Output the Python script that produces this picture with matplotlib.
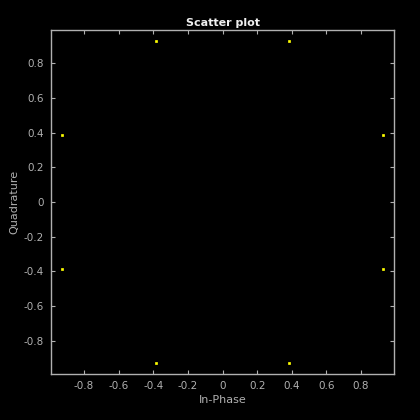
import matplotlib
matplotlib.use("Agg")
import matplotlib.pyplot as plt
import numpy as np
from matplotlib.ticker import FuncFormatter

plt.rcParams["axes.unicode_minus"] = False

# 8-PSK constellation points
in_phase = [0.924, 0.383, -0.383, -0.924, -0.924, -0.383, 0.383, 0.924]
quadrature = [0.383, 0.924, 0.924, 0.383, -0.383, -0.924, -0.924, -0.383]
ticks = [-0.8, -0.6, -0.4, -0.2, 0, 0.2, 0.4, 0.6, 0.8]

AX_COLOR = "#b0b0b0"

fig = plt.figure(figsize=(4.2, 4.2), dpi=100, facecolor="black")
ax = fig.add_axes([51 / 420, 46 / 420, 343 / 420, 344 / 420], facecolor="black")

ax.plot(in_phase, quadrature, linestyle="None", marker="s", markersize=1.6,
        mfc="yellow", mec="yellow", mew=0.5)

ax.set_xlim(-0.99, 0.99)
ax.set_ylim(-0.99, 0.99)
ax.set_xticks(ticks)
ax.set_yticks(ticks)
fmt = FuncFormatter(lambda v, p: "%g" % round(v, 2))
ax.xaxis.set_major_formatter(fmt)
ax.yaxis.set_major_formatter(fmt)

for sp in ax.spines.values():
    sp.set_color(AX_COLOR)
    sp.set_linewidth(1.0)
ax.tick_params(direction="in", length=3, width=0.8, colors=AX_COLOR,
               labelsize=7.5, top=True, right=True, pad=5)

ax.set_xlabel("In-Phase", color=AX_COLOR, fontsize=8, labelpad=3)
ax.set_ylabel("Quadrature", color=AX_COLOR, fontsize=8, labelpad=3)
ax.set_title("Scatter plot", color="#f0f0f0", fontsize=8, fontweight="bold", pad=3)

fig.savefig("out.png", dpi=100, facecolor="black")
